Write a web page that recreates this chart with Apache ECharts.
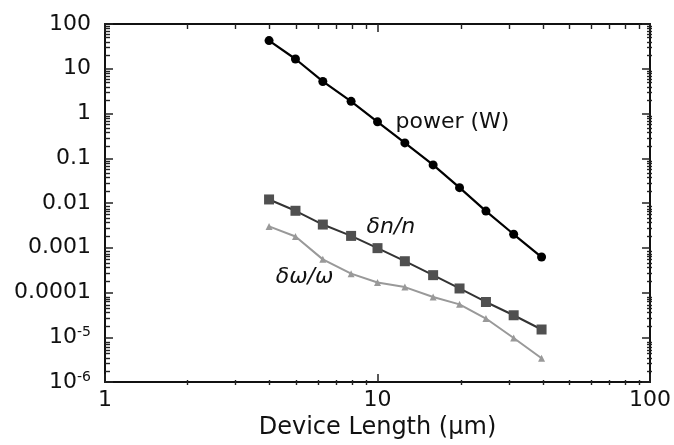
<!DOCTYPE html>
<html>
<head>
<meta charset="utf-8">
<script src="https://cdn.jsdelivr.net/npm/echarts@6/dist/echarts.min.js"></script>
<style>
  html, body { margin: 0; padding: 0; background: #fff; }
  #main { width: 674px; height: 445px; }
</style>
</head>
<body>
<div id="main"></div>
<script>
'use strict';

// device length (um)
var lengths = [4, 5, 6.3, 8, 10, 12.6, 16, 20, 25, 31.6, 40];

// power (W)
var power = [42.6, 16.5, 5.2, 1.87, 0.65, 0.22, 0.071, 0.022, 0.0066, 0.0020, 0.00062];

// delta n / n
var dnn = [0.0120, 0.0067, 0.0033, 0.00184, 0.00098, 0.00050, 0.000244, 0.000123, 0.0000614, 0.000031, 0.0000149];

// delta omega / omega
var dww = [0.0030, 0.00178, 0.00055, 0.000264, 0.000167, 0.000132, 0.0000793, 0.0000543, 0.0000262, 0.0000096, 0.0000034];

// y tick labels, by exponent
var yTickText = {
    '-6': '{b|10}{s|-6}',
    '-5': '{b|10}{s|-5}',
    '-4': '0.0001',
    '-3': '0.001',
    '-2': '0.01',
    '-1': '0.1',
    '0': '1',
    '1': '10',
    '2': '100'
};
var xTickText = ['1', '10', '100'];

// minor tick positions (2..9 of every decade), as exponents
function minorTicks(lo, hi) {
    var out = [];
    for (var e = lo; e < hi; e++) {
        for (var k = 2; k <= 9; k++) {
            out.push(e + Math.log10(k));
        }
    }
    return out;
}
var xMinor = minorTicks(0, 2);
var yMinor = minorTicks(-6, 2);

var font = 'DejaVu Sans';
var chart = echarts.init(document.getElementById('main'));

var gridBox = { left: 105, right: 22, top: 24, bottom: 60 };

function xAx(pos, showLabel) {
    return {
        gridIndex: 0,
        type: 'log', logBase: 10, min: 1, max: 100, position: pos,
        splitNumber: 2,
        axisLine: { onZero: false, lineStyle: { color: '#111', width: 2 } },
        axisTick: { inside: true, length: 8, lineStyle: { color: '#222', width: 1.5 } },
        axisLabel: {
            show: showLabel, margin: 7, color: '#111', fontFamily: font, fontSize: 22,
            formatter: function (v) { return xTickText[Math.round(Math.log10(v))]; }
        },
        splitLine: { show: false },
        name: showLabel ? 'Device Length (\u03bcm)' : '',
        nameLocation: 'middle', nameGap: 34,
        nameTextStyle: { color: '#111', fontFamily: font, fontSize: 24 }
    };
}

function yAx(pos, showLabel) {
    return {
        gridIndex: 0,
        type: 'log', logBase: 10, min: 1e-6, max: 100, position: pos,
        splitNumber: 8,
        axisLine: { onZero: false, lineStyle: { color: '#111', width: 2 } },
        axisTick: { inside: true, length: 8, lineStyle: { color: '#222', width: 1.5 } },
        axisLabel: {
            show: showLabel, margin: 14, color: '#111', fontFamily: font, fontSize: 22,
            formatter: function (v) { return yTickText[String(Math.round(Math.log10(v)))]; },
            rich: {
                b: { fontFamily: font, fontSize: 22, color: '#111' },
                s: { fontFamily: font, fontSize: 14, color: '#111', padding: [0, 0, 9, 0] }
            }
        },
        splitLine: { show: false }
    };
}

// tick-only axes in exponent space on an overlaid grid, for the minor ticks
function minorAx(pos, lo, hi, vals) {
    return {
        gridIndex: 1,
        type: 'value', min: lo, max: hi, position: pos,
        axisLine: { show: true, onZero: false, lineStyle: { color: 'rgba(0,0,0,0)', width: 1 } },
        axisTick: { show: true, inside: true, length: 5, customValues: vals, lineStyle: { color: '#222', width: 1.4 } },
        axisLabel: { show: false },
        splitLine: { show: false }
    };
}

function labelMark(text, coord, pos, italic, dist) {
    return {
        symbol: 'circle', symbolSize: 2,
        itemStyle: { color: 'rgba(0,0,0,0)' },
        label: {
            show: true, formatter: text, position: pos, distance: dist,
            color: '#111', fontFamily: font, fontSize: 22,
            fontStyle: italic ? 'italic' : 'normal'
        },
        data: [{ coord: coord }]
    };
}

var option = {
    animation: false,
    grid: [gridBox, gridBox],
    xAxis: [
        xAx('bottom', true),
        xAx('top', false),
        minorAx('bottom', 0, 2, xMinor),
        minorAx('top', 0, 2, xMinor)
    ],
    yAxis: [
        yAx('left', true),
        yAx('right', false),
        minorAx('left', -6, 2, yMinor),
        minorAx('right', -6, 2, yMinor)
    ],
    series: [
        {
            name: 'power (W)', type: 'line',
            data: lengths.map(function (x, i) { return [x, power[i]]; }),
            symbol: 'circle', symbolSize: 9,
            lineStyle: { color: '#000', width: 2.2 },
            itemStyle: { color: '#000' },
            markPoint: labelMark('power (W)', [10, 0.65], 'right', false, 17)
        },
        {
            name: '\u03b4n/n', type: 'line',
            data: lengths.map(function (x, i) { return [x, dnn[i]]; }),
            symbol: 'rect', symbolSize: 10,
            lineStyle: { color: '#333', width: 2 },
            itemStyle: { color: '#505050' },
            markPoint: labelMark('\u03b4n/n', [11.2, 0.0029], 'inside', true, 0)
        },
        {
            name: '\u03b4\u03c9/\u03c9', type: 'line',
            data: lengths.map(function (x, i) { return [x, dww[i]]; }),
            symbol: 'triangle', symbolSize: 7,
            lineStyle: { color: '#999', width: 2 },
            itemStyle: { color: '#999' },
            markPoint: labelMark('\u03b4\u03c9/\u03c9', [5.4, 0.00022], 'inside', true, 0)
        }
    ]
};

chart.setOption(option);
</script>
</body>
</html>
